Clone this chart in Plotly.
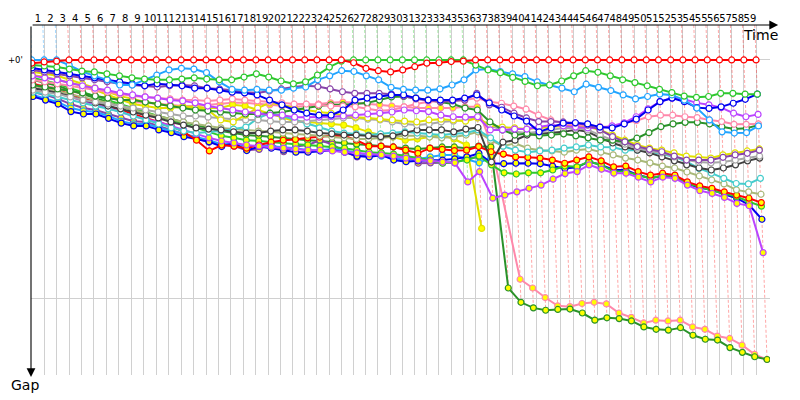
import plotly.graph_objects as go

# leader's lap times in seconds, laps 1..59
LEADER_LAP_S = [85.0, 86.0, 85.5, 85.9, 85.3, 85.8, 85.6, 85.4, 85.9, 85.6,
                85.3, 85.7, 85.6, 85.5, 85.8, 85.4, 85.7, 85.6, 84.0, 83.9,
                83.8, 84.0, 83.7, 83.9, 83.8, 84.1, 83.7, 83.9, 83.8, 84.0,
                83.6, 83.9, 83.8, 84.0, 83.7, 83.9, 83.8, 84.0, 83.6, 83.9,
                83.8, 83.7, 84.0, 83.8, 83.9, 83.7, 84.0, 83.8, 83.9, 83.6,
                83.8, 84.0, 83.7, 83.9, 83.8, 83.7, 84.0, 83.8, 83.9]

# gap to the leader (s) at each lap, lap 0 first
RED_1 = [0.8, 0.5, 0.3, 0, 0, 0, 0, 0, 0, 0,
         0, 0, 0, 0, 0, 0, 0, 0, 0, 0,
         0, 0, 0, 0, 0, 0, 0.7, 2.1, 2.7, 3.0,
         2.5, 1.7, 0.8, 0.7, 0.4, 0.3, 0, 0, 0, 0,
         0, 0, 0, 0, 0, 0, 0, 0, 0, 0,
         0, 0, 0, 0, 0, 0, 0, 0, 0, 0]
GREEN_1 = [1.3, 1.5, 1.8, 2.3, 2.8, 3.0, 3.5, 4.0, 4.5, 4.8,
           5.0, 5.0, 4.8, 4.5, 4.8, 5.0, 5.0, 4.3, 3.5, 4.3,
           5.3, 6.0, 5.5, 3.8, 1.8, 0.3, 0, 0, 0, 0,
           0, 0, 0, 0, 0, 0, 1.3, 2.5, 3.2, 4.4,
           5.4, 6.5, 6.3, 5.3, 4.0, 2.7, 3.1, 4.0, 5.0, 5.7,
           6.5, 7.4, 8.2, 9.1, 9.4, 9.2, 8.4, 8.4, 8.6, 8.6]
LBLUE_1 = [0, 0, 0, 1.3, 2.9, 4.0, 5.0, 6.3, 6.3, 5.0,
           3.8, 2.5, 2.1, 2.3, 3.2, 5.5, 7.4, 7.6, 7.4, 7.6,
           7.6, 7.1, 6.8, 5.0, 4.0, 2.7, 2.9, 4.0, 5.0, 6.9,
           7.4, 7.6, 7.6, 7.3, 6.3, 5.0, 2.5, 2.3, 2.9, 3.5,
           4.2, 5.5, 6.3, 7.1, 8.0, 6.1, 6.9, 7.7, 8.8, 9.8,
           9.2, 8.6, 8.8, 10.1, 12.1, 15.1, 18.1, 18.4, 18.3, 16.6]
BLUE_1 = [2.0, 2.5, 3.0, 3.5, 4.0, 4.5, 5.0, 5.5, 6.0, 6.5,
          6.0, 6.3, 6.5, 7.1, 7.1, 7.6, 8.1, 8.3, 8.8, 10.1,
          11.3, 12.6, 13.4, 13.9, 13.9, 12.6, 10.1, 9.6, 9.2, 8.8,
          8.8, 9.6, 10.1, 10.1, 10.1, 9.6, 8.8, 10.8, 12.6, 14.1,
          15.4, 18.1, 17.1, 15.9, 15.8, 16.1, 16.9, 17.1, 16.1, 14.9,
          12.6, 10.5, 9.6, 10.5, 12.0, 12.2, 11.8, 10.9, 9.9, 8.6]
PURPLE_1 = [2.5, 3.0, 3.5, 4.0, 4.5, 5.0, 5.5, 6.0, 6.3, 6.5,
            6.8, 6.5, 6.3, 6.5, 7.1, 7.3, 7.6, 8.1, 8.3, 7.8,
            7.3, 6.8, 6.5, 6.7, 7.3, 8.0, 8.4, 8.4, 8.4, 8.6,
            9.1, 9.8, 10.1, 10.5, 10.3, 10.1, 8.4, 11.3, 11.9, 13.4,
            14.6, 15.5, 15.5, 15.6, 15.9, 16.4, 17.6, 19.3, 20.6, 21.8,
            22.5, 23.1, 24.2, 25.2, 25.2, 25.2, 24.5, 23.9, 23.5, 22.7]
VIOLET_1 = [4.0, 4.5, 5.0, 5.8, 6.5, 7.1, 7.6, 8.3, 8.8, 9.3,
            9.6, 10.1, 10.3, 10.8, 11.6, 12.1, 12.6, 13.1, 13.4, 13.9,
            13.9, 14.4, 14.4, 14.4, 14.3, 14.1, 13.9, 13.6, 13.4, 13.1,
            12.6, 12.8, 13.0, 13.9, 14.3, 14.4, 14.3, 17.6, 17.6, 17.4,
            17.4, 16.9, 16.4, 16.6, 16.9, 17.1, 17.1, 16.6, 15.8, 14.3,
            12.3, 10.5, 9.6, 9.9, 10.8, 11.3, 12.0, 13.4, 14.3, 13.7]
PINK_1 = [5.0, 5.5, 6.0, 6.5, 7.1, 7.6, 8.1, 8.6, 9.1, 9.3,
          9.6, 9.8, 10.1, 10.1, 10.3, 10.1, 9.8, 10.1, 10.3, 10.6,
          10.8, 11.1, 11.1, 11.3, 11.6, 11.6, 11.8, 12.3, 12.8, 12.6,
          11.8, 11.1, 10.5, 10.3, 10.2, 10.1, 9.6, 10.5, 10.9, 11.6,
          12.4, 13.9, 15.1, 15.9, 16.4, 16.4, 16.8, 16.8, 15.9, 15.3,
          14.3, 13.9, 13.9, 14.3, 14.5, 15.1, 15.5, 16.2, 16.2, 16.1]
DKGREEN_1 = [6.3, 6.8, 7.3, 7.8, 8.3, 9.1, 9.6, 10.1, 10.1, 10.6,
             11.1, 11.6, 12.1, 12.6, 12.8, 13.1, 13.4, 13.6, 13.6, 13.4,
             13.1, 12.6, 12.1, 11.6, 11.3, 11.3, 11.1, 10.8, 10.1, 9.3,
             9.2, 9.6, 10.1, 10.6, 11.1, 12.1, 12.6, 15.6, 17.6, 18.9,
             18.5, 19.1, 18.9, 18.6, 19.1, 19.6, 20.2, 20.2, 20.6, 19.7,
             18.3, 16.8, 16.1, 15.7, 15.7, 16.1, 16.8, 17.4, 17.2, 16.4]
YELLOW_1 = [3.0, 3.5, 4.0, 5.0, 6.0, 7.1, 8.1, 9.1, 9.8, 10.6,
            11.1, 11.6, 11.8, 12.1, 12.6, 15.1, 15.6, 13.9, 12.1, 10.8,
            11.3, 12.1, 12.6, 13.1, 13.4, 13.9, 14.4, 14.6, 14.9, 15.1,
            15.4, 15.6, 15.1, 14.9, 15.1, 15.4, 14.6, 16.4, 16.9, 17.1,
            17.4, 17.1, 16.9, 16.6, 16.6, 16.9, 17.6, 18.9, 20.2, 21.4,
            22.2, 22.7, 23.4, 24.2, 24.4, 24.7, 23.9, 23.4, 22.9, 22.4]
GRAY_1 = [7.6, 8.1, 8.6, 9.3, 10.1, 10.6, 11.1, 11.6, 12.1, 12.6,
          13.1, 13.6, 14.1, 14.1, 14.4, 14.6, 14.9, 15.1, 15.1, 15.4,
          15.6, 15.6, 15.4, 15.1, 14.9, 14.6, 14.6, 14.9, 15.1, 15.6,
          16.1, 16.4, 16.1, 15.6, 15.4, 15.1, 14.6, 16.6, 17.6, 18.1,
          18.4, 18.1, 17.6, 17.1, 17.2, 17.6, 18.9, 20.2, 21.2, 22.2,
          22.9, 23.4, 24.4, 25.2, 25.7, 25.9, 25.7, 25.2, 24.7, 24.2]
BLACK_1 = [7.1, 7.6, 8.3, 9.1, 10.1, 10.8, 11.6, 12.3, 13.1, 13.9,
           14.6, 15.6, 16.4, 17.1, 17.4, 17.6, 18.1, 18.4, 18.4, 17.9,
           17.6, 17.6, 17.9, 18.4, 18.6, 18.9, 18.9, 19.1, 19.3, 19.1,
           18.4, 17.6, 17.6, 17.6, 18.1, 17.4, 17.0, 25.7, 20.7, 20.2,
           18.9, 18.6, 18.4, 18.1, 17.6, 18.1, 19.6, 20.9, 21.9, 22.7,
           23.4, 24.4, 25.4, 26.4, 27.2, 27.7, 27.2, 26.4, 25.4, 24.7]
CYAN_1 = [8.1, 8.6, 9.3, 10.1, 10.8, 11.6, 12.3, 13.1, 14.1, 15.1,
          16.1, 17.1, 17.9, 18.4, 18.1, 17.9, 17.4, 16.9, 14.6, 13.4,
          14.1, 15.1, 16.1, 17.1, 17.9, 18.4, 18.6, 18.9, 18.6, 18.4,
          18.1, 18.4, 18.6, 18.9, 18.6, 18.4, 17.6, 19.6, 21.7, 22.7,
          23.2, 22.9, 22.7, 22.2, 21.9, 21.4, 21.9, 22.0, 22.7, 22.7,
          23.1, 23.7, 24.4, 25.6, 27.3, 28.5, 29.8, 31.1, 31.2, 29.8]
OLIVE_1 = [6.5, 7.1, 7.8, 8.6, 9.3, 10.1, 10.8, 11.6, 12.6, 13.4,
           14.1, 14.9, 15.6, 16.1, 16.6, 17.1, 17.4, 17.6, 17.9, 18.1,
           18.4, 18.6, 18.9, 19.1, 19.4, 19.6, 19.9, 19.9, 19.6, 19.4,
           19.1, 19.1, 19.4, 19.6, 19.4, 18.9, 18.1, 20.2, 21.7, 21.0,
           22.2, 22.7, 22.9, 23.2, 22.7, 22.4, 23.2, 23.9, 24.7, 25.2,
           25.9, 26.7, 27.2, 28.2, 29.2, 30.2, 31.2, 32.7, 33.2, 33.8]
RED_2 = [6.0, 6.8, 7.6, 8.6, 9.6, 10.6, 11.6, 12.6, 13.6, 14.6,
         15.6, 16.6, 18.1, 20.2, 22.9, 21.4, 21.7, 22.2, 21.4, 20.7,
         20.2, 20.0, 19.6, 19.4, 19.1, 19.1, 20.2, 21.7, 21.7, 21.9,
         22.7, 23.5, 22.2, 22.5, 22.8, 22.7, 21.8, 23.1, 23.7, 24.4,
         24.5, 24.7, 25.2, 26.0, 25.2, 24.4, 25.4, 26.9, 26.7, 28.1,
         29.0, 28.5, 29.0, 30.7, 31.7, 32.3, 33.2, 34.0, 34.8, 35.9]
GREEN_2 = [4.5, 5.3, 6.0, 7.1, 8.1, 9.1, 10.1, 11.1, 12.1, 13.1,
           14.1, 15.1, 16.1, 17.1, 18.1, 19.1, 19.6, 20.2, 20.4, 20.7,
           20.9, 21.2, 21.4, 21.7, 21.9, 22.2, 22.7, 23.2, 23.4, 23.7,
           24.2, 24.7, 25.2, 26.0, 25.7, 25.2, 24.2, 26.4, 28.4, 28.7,
           28.4, 28.4, 27.7, 26.7, 26.9, 25.6, 26.4, 28.1, 28.1, 29.0,
           29.8, 29.0, 29.2, 31.1, 31.9, 32.9, 33.6, 34.4, 35.7, 36.8]
BLUE_2 = [9.2, 10.1, 11.1, 13.0, 13.6, 13.6, 14.7, 15.9, 16.6, 16.6,
          17.6, 18.3, 19.3, 20.0, 20.6, 21.8, 20.9, 22.8, 21.8, 22.2,
          22.7, 23.2, 23.2, 22.9, 22.7, 23.2, 24.2, 24.4, 23.9, 25.2,
          25.6, 25.4, 25.3, 25.2, 24.9, 24.4, 23.5, 26.0, 26.1, 26.0,
          26.0, 26.1, 26.7, 27.3, 27.0, 25.6, 26.4, 27.7, 27.7, 29.0,
          29.7, 29.2, 29.5, 31.2, 32.2, 32.7, 33.8, 34.8, 36.5, 40.1]
LBLUE_2 = [8.8, 9.6, 10.6, 12.1, 12.8, 13.1, 14.1, 15.4, 16.1, 16.1,
           17.1, 17.9, 18.6, 19.4, 20.2, 21.2, 20.7, 21.9, 21.4, 21.7,
           21.9, 22.2, 22.7, 22.7, 22.4, 22.7, 23.4, 23.9, 24.2, 24.7,
           25.2, 24.9, 24.4, 23.9, 23.9, 25.0, 25.9, 24.4]
PURPLE_2 = [8.1, 8.8, 9.8, 11.1, 12.1, 12.6, 13.6, 14.6, 15.4, 15.6,
            16.6, 17.6, 18.6, 19.6, 20.7, 21.2, 21.7, 22.7, 22.5, 21.0,
            23.1, 21.8, 21.4, 20.2, 21.2, 23.1, 24.4, 23.7, 23.9, 24.5,
            23.9, 26.0, 25.9, 25.9, 25.9, 24.8, 24.4]
VIOLET_2 = [7.1, 7.6, 8.3, 9.3, 10.3, 11.3, 12.1, 13.1, 14.1, 14.9,
            15.6, 16.6, 17.6, 18.6, 19.6, 20.4, 20.9, 21.4, 21.7, 21.9,
            22.2, 22.4, 22.7, 22.7, 22.9, 23.2, 23.4, 23.7, 23.9, 24.2,
            24.7, 25.2, 25.4, 25.7, 25.9, 30.7, 28.1, 34.8, 34.0, 33.2,
            32.3, 31.5, 30.0, 28.6, 28.1, 26.4, 27.5, 28.5, 28.5, 29.5,
            30.7, 29.5, 29.8, 31.5, 32.9, 33.6, 34.6, 36.1, 36.7, 48.5]
PINK_2 = [6.0, 6.5, 7.1, 7.8, 8.6, 9.1, 9.6, 10.1, 10.6, 10.8,
          11.1, 11.3, 11.6, 11.6, 11.3, 11.1, 10.8, 10.8, 11.1, 11.3,
          11.6, 11.8, 11.6, 11.1, 10.8, 10.6, 10.8, 11.1, 11.3, 11.6,
          11.8, 12.1, 12.1, 12.1, 12.1, 11.8, 11.8, 20.8, None, 55.2,
          57.4, 59.8, 61.9, 62.1, 61.3, 61.0, 61.4, 63.7, 64.8, 66.2,
          65.5, 65.7, 65.5, 67.2, 67.8, 69.5, 70.1, 71.8, 74.1, 75.4]
DKGREEN_2 = [5.0, 5.8, 6.5, 7.6, 8.6, 9.6, 10.6, 11.6, 12.6, 13.4,
             14.1, 14.9, 15.6, 16.4, 17.1, 17.9, 18.4, 18.9, 19.1, 19.4,
             19.6, 19.9, 20.2, 20.4, 20.7, 20.9, 21.2, 21.4, 21.7, 21.9,
             22.2, 22.4, 22.2, 21.9, 21.9, 22.2, 21.7, 21.9, 57.4, 61.0,
             62.4, 63.0, 62.8, 62.7, 63.7, 65.5, 64.9, 65.1, 65.7, 67.2,
             67.8, 68.0, 67.4, 69.3, 70.3, 70.5, 72.4, 73.6, 74.7, 75.4]
YELLOW_2 = [3.8, 4.3, 5.0, 5.8, 6.5, 7.6, 8.8, 10.1, 11.1, 11.6,
            12.1, 12.1, 11.8, 11.8, 12.1, 12.1, 11.3, 11.6, 12.6, 13.6,
            14.6, 15.4, 15.6, 15.9, 16.1, 16.4, 17.1, 18.1, 18.9, 19.4,
            20.2, 19.9, 19.4, 18.9, 19.9, 21.4, 42.4]

# drawing order: first drawn ends up at the bottom
CARS = [
    ("pink 2", PINK_2), ("dark green 2", DKGREEN_2), ("yellow 2", YELLOW_2),
    ("purple 2", PURPLE_2), ("light blue 2", LBLUE_2), ("blue 2", BLUE_2),
    ("green 2", GREEN_2), ("red 2", RED_2), ("violet 2", VIOLET_2),
    ("olive 1", OLIVE_1), ("cyan 1", CYAN_1), ("black 1", BLACK_1),
    ("gray 1", GRAY_1), ("yellow 1", YELLOW_1), ("dark green 1", DKGREEN_1),
    ("pink 1", PINK_1), ("violet 1", VIOLET_1), ("purple 1", PURPLE_1),
    ("blue 1", BLUE_1), ("light blue 1", LBLUE_1), ("green 1", GREEN_1),
    ("red 1", RED_1),
]

TEAM_COLORS = {
    "red": "#FF0000", "green": "#2EC82E", "light blue": "#22A4FF",
    "blue": "#0000F0", "purple": "#8844AA", "violet": "#BB44FF",
    "pink": "#FF88AA", "dark green": "#2A922A", "yellow": "#E0E000",
    "gray": "#A8A8A8", "black": "#404040", "cyan": "#44CCCC",
    "olive": "#A8B878",
}
LAP_LINE_COLORS = {
    "red": "rgba(255,0,0,0.35)", "green": "rgba(0,200,0,0.32)",
    "light blue": "rgba(30,160,255,0.4)",
}

Y_TOP, Y_BOTTOM = -8.8, 79.3
X_LEFT, X_RIGHT = -4.8, 5074

# time at which the leader completes each lap
lap_time = [0.0]
for s in LEADER_LAP_S:
    lap_time.append(lap_time[-1] + s)

fig = go.Figure()

# dashed lap lines, coloured by whoever led that lap
lap_lines = {}
for lap in range(len(lap_time)):
    gaps = [(g[lap], name) for name, g in CARS if lap < len(g) and g[lap] is not None]
    leader = min(gaps)[1].rsplit(" ", 1)[0]
    deepest = max(g for g, _ in gaps)
    xs, ys = lap_lines.setdefault(leader, ([], []))
    xs += [lap_time[lap] + Y_TOP, lap_time[lap] + deepest, None]
    ys += [Y_TOP, deepest, None]

for team, (xs, ys) in lap_lines.items():
    fig.add_trace(go.Scatter(
        x=xs, y=ys, mode="lines", hoverinfo="skip", showlegend=False,
        line=dict(color=LAP_LINE_COLORS[team], width=1, dash="3px,2px"),
    ))

for name, gaps in CARS:
    team, num = name.rsplit(" ", 1)
    color = TEAM_COLORS[team]
    xs = [lap_time[i] + g if g is not None else None for i, g in enumerate(gaps)]
    fig.add_trace(go.Scatter(
        x=xs, y=gaps, mode="lines+markers", name=name, showlegend=False,
        connectgaps=True,
        line=dict(color=color, width=2),
        marker=dict(size=6, color="#FFFFFF" if num == "1" else "#FFFF00",
                    line=dict(color=color, width=1.2)),
    ))

mids = [(lap_time[i - 1] + lap_time[i]) / 2 for i in range(1, len(lap_time))]
labels = [str(i) for i in range(1, len(lap_time))]

# the page body adds an 8px offset, so the figure is 8px smaller each way
fig.update_layout(
    width=792, height=392,
    margin=dict(l=23, r=30, t=17, b=25),
    paper_bgcolor="white", plot_bgcolor="white",
    font=dict(family="DejaVu Sans", color="black"),
    xaxis=dict(
        side="top", range=[X_LEFT, X_RIGHT], automargin=False,
        tickmode="array", tickvals=mids, ticktext=labels,
        tickfont=dict(size=10), tickangle=0, ticks="",
        showgrid=False, zeroline=False, showline=False,
        minor=dict(tickmode="array", tickvals=lap_time[1:], showgrid=True,
                   gridcolor="#D0D0D0", gridwidth=1, ticks=""),
    ),
    yaxis=dict(
        range=[Y_BOTTOM, Y_TOP], automargin=False,
        tickmode="array", tickvals=[0, 60],
        showticklabels=False, ticks="",
        showgrid=True, gridcolor="#D0D0D0", gridwidth=1,
        zeroline=False, showline=False,
    ),
    annotations=[
        # axis arrows
        dict(x=0, y=-0.006, xref="paper", yref="paper", ax=0, ay=-352,
             text="", showarrow=True, arrowhead=2, arrowsize=1.6,
             arrowwidth=1.1, arrowcolor="black", standoff=0),
        dict(x=1.011, y=1, xref="paper", yref="paper", ax=-747, ay=0,
             text="", showarrow=True, arrowhead=2, arrowsize=1.6,
             arrowwidth=1.1, arrowcolor="black", standoff=0),
        dict(x=0.9865, y=0.972, xref="paper", yref="paper", text="Time",
             xanchor="center", yanchor="middle",
             showarrow=False, font=dict(size=14)),
        dict(x=-0.008, y=-0.029, xref="paper", yref="paper", text="Gap",
             xanchor="center", yanchor="middle",
             showarrow=False, font=dict(size=14)),
        dict(x=-0.008, y=0, xref="paper", yref="y", text="+0'",
             xanchor="right", yanchor="middle",
             showarrow=False, font=dict(size=8.5)),
    ],
)

fig.write_html("out.html")
